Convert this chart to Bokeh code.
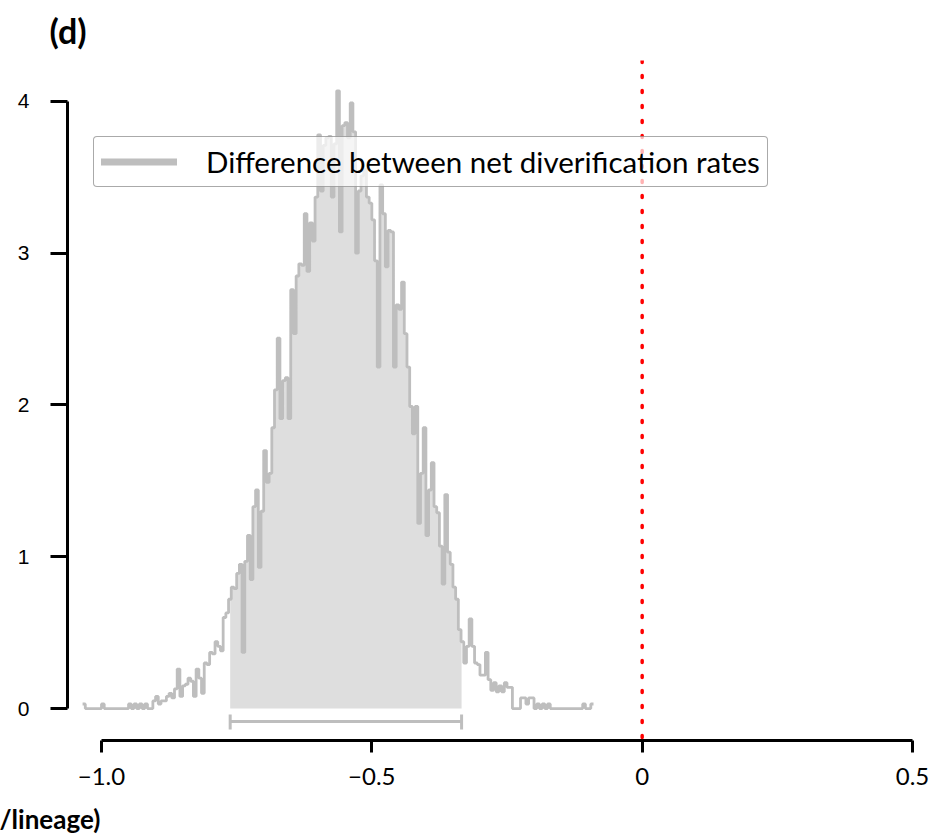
import numpy as np
from bokeh.plotting import figure
from bokeh.models import (Range1d, LinearAxis, FixedTicker, Span, Legend,
                          LegendItem, Title)
from bokeh.embed import file_html
from bokeh.resources import INLINE

# Posterior density of the difference between net diversification rates
bin_start = -1.035
bin_width = 0.005
density = [
    0.03, 0, 0, 0, 0, 0, 0, 0.03, 0, 0,
    0, 0, 0, 0, 0, 0, 0, 0.03, 0, 0.03,
    0, 0.03, 0, 0.03, 0, 0, 0.05, 0.08, 0.03, 0.05,
    0.05, 0.08, 0.10, 0.07, 0.13, 0.26, 0.08, 0.15, 0.16, 0.20,
    0.18, 0.08, 0.26, 0.20, 0.10, 0.30, 0.29, 0.37, 0.36, 0.44,
    0.41, 0.38, 0.60, 0.63, 0.72, 0.80, 0.79, 0.89, 0.95, 0.37,
    0.97, 1.14, 0.85, 1.33, 1.44, 0.93, 1.30, 1.70, 1.49, 1.55,
    1.85, 2.10, 2.44, 1.91, 2.16, 2.18, 1.91, 2.76, 2.47, 2.85,
    2.93, 2.92, 3.26, 2.88, 3.20, 3.08, 3.37, 3.78, 3.41, 3.71,
    3.76, 3.77, 3.37, 3.72, 4.07, 3.14, 3.84, 3.86, 3.76, 3.99,
    3.80, 3.00, 3.41, 3.51, 3.55, 3.37, 3.33, 3.22, 2.95, 2.25,
    3.45, 3.26, 2.91, 3.15, 3.14, 2.25, 2.66, 2.63, 2.81, 2.47,
    2.25, 1.99, 1.81, 1.99, 1.22, 1.55, 1.85, 1.14, 1.44, 1.62,
    1.33, 1.29, 1.07, 0.82, 1.41, 1.03, 0.95, 0.80, 0.72, 0.52,
    0.44, 0.30, 0.41, 0.59, 0.41, 0.30, 0.29, 0.22, 0.22, 0.37,
    0.19, 0.12, 0.17, 0.11, 0.15, 0.11, 0.17, 0.14, 0.14, 0.0,
    0.0, 0.0, 0.07, 0.07, 0.03, 0.07, 0.07, 0.0, 0.03, 0.0,
    0.03, 0.0, 0.03, 0.0, 0, 0, 0, 0, 0, 0,
    0, 0, 0, 0, 0, 0.03, 0, 0, 0.03,
]

# 95% highest posterior density interval
hpd_low = -0.762
hpd_high = -0.334

ref_value = 0.0
x_ticks = [-1.0, -0.5, 0.0, 0.5]
x_tick_labels = ["\u22121.0", "\u22120.5", "0", "0.5"]
y_ticks = [0, 1, 2, 3, 4]
y_tick_labels = ["0", "1", "2", "3", "4"]
legend_label = "Difference between net diverification rates"
panel_tag = "(d)"
x_label_tail = "/lineage)"

LINE_GRAY = "#bebebe"
FILL_GRAY = "#dedede"

dens = np.asarray(density, dtype=float)
edges = bin_start + bin_width * np.arange(len(dens) + 1)

# step outline of the histogram
step_x = np.repeat(edges, 2)[1:-1]
step_y = np.repeat(dens, 2)

# shaded area under the curve inside the HPD interval
px, py = [hpd_low], [0.0]
for i, v in enumerate(dens):
    l, r = edges[i], edges[i + 1]
    if r <= hpd_low or l >= hpd_high:
        continue
    px += [max(l, hpd_low), min(r, hpd_high)]
    py += [v, v]
px.append(hpd_high)
py.append(0.0)

p = figure(width=936, height=835, output_backend="svg", toolbar_location=None,
           x_range=Range1d(-1.0629, 0.5333), y_range=Range1d(-0.2105, 4.2697),
           x_axis_type=None, y_axis_type=None, title=panel_tag,
           min_border_left=67, min_border_right=6,
           min_border_top=60, min_border_bottom=94)
p.outline_line_color = None
p.background_fill_color = "white"
p.border_fill_color = "white"

# panel tag in the top-left corner
p.title.align = "left"
p.title.vertical_align = "top"
p.title.offset = -18
p.title.text_font = "Lato"
p.title.text_font_style = "bold"
p.title.text_font_size = "34px"
p.title.text_color = "black"
p.title.standoff = 15

p.patch(px, py, fill_color=FILL_GRAY, line_color=None)
p.line(step_x, step_y, line_color=LINE_GRAY, line_width=2.8)

# HPD bar with end caps below the histogram
bar_y, cap_lo, cap_hi = -0.085, -0.04, -0.138
p.segment(x0=[hpd_low], y0=[bar_y], x1=[hpd_high], y1=[bar_y],
          line_color=LINE_GRAY, line_width=3)
p.segment(x0=[hpd_low, hpd_high], y0=[cap_lo, cap_lo],
          x1=[hpd_low, hpd_high], y1=[cap_hi, cap_hi],
          line_color=LINE_GRAY, line_width=3)

# axes, R style
xaxis = LinearAxis(ticker=FixedTicker(ticks=x_ticks), bounds=(x_ticks[0], x_ticks[-1]),
                   major_label_overrides=dict(zip(x_ticks, x_tick_labels)))
xaxis.axis_line_width = 3
xaxis.major_tick_line_width = 3
xaxis.major_tick_out = 12
xaxis.major_tick_in = 0
xaxis.minor_tick_line_color = None
xaxis.major_label_standoff = 15
xaxis.major_label_text_font = "Lato"
xaxis.major_label_text_font_size = "24px"
xaxis.major_label_text_color = "black"
# a blank spacer line under the tick labels
xaxis.axis_label = " "
xaxis.axis_label_standoff = 0
xaxis.axis_label_text_font_size = "10px"
p.add_layout(xaxis, "below")

# tail of the x-axis title, left-aligned under the axis
p.add_layout(Title(text=x_label_tail, align="left", vertical_align="middle", offset=-68,
                   text_font="Lato", text_font_style="bold", text_font_size="26px",
                   text_color="black", standoff=0), "below")

yaxis = LinearAxis(ticker=FixedTicker(ticks=y_ticks), bounds=(y_ticks[0], y_ticks[-1]),
                   major_label_overrides=dict(zip(y_ticks, y_tick_labels)))
yaxis.axis_line_width = 3
yaxis.major_tick_line_width = 3
yaxis.major_tick_out = 17
yaxis.major_tick_in = 0
yaxis.minor_tick_line_color = None
yaxis.major_label_standoff = 21
yaxis.major_label_orientation = "horizontal"
yaxis.major_label_text_font = "Liberation Sans"
yaxis.major_label_text_font_size = "21px"
yaxis.major_label_text_color = "black"
p.add_layout(yaxis, "left")

# reference line at zero
p.add_layout(Span(location=ref_value, dimension="height", line_color="red",
                  line_width=3.5, line_dash="2 13", line_cap="round"))

# legend key: a thick grey line sample (renderer itself draws nothing visible)
key = p.line(x=[ref_value, ref_value], y=[np.nan, np.nan],
             line_color=LINE_GRAY, line_width=7, line_cap="round")
legend = Legend(items=[LegendItem(label=legend_label, renderers=[key])],
                location=(26, 553), margin=0, padding=7, spacing=0,
                glyph_width=76, glyph_height=31, label_height=31,
                label_standoff=29,
                label_text_font="Lato", label_text_font_size="29.5px",
                label_text_color="black",
                background_fill_color="white", background_fill_alpha=0.7,
                border_line_color="#555555", border_line_width=1.5)
try:
    legend.border_radius = 4
except Exception:
    pass
p.add_layout(legend, "center")

open("out.html", "w").write(file_html(p, INLINE))
